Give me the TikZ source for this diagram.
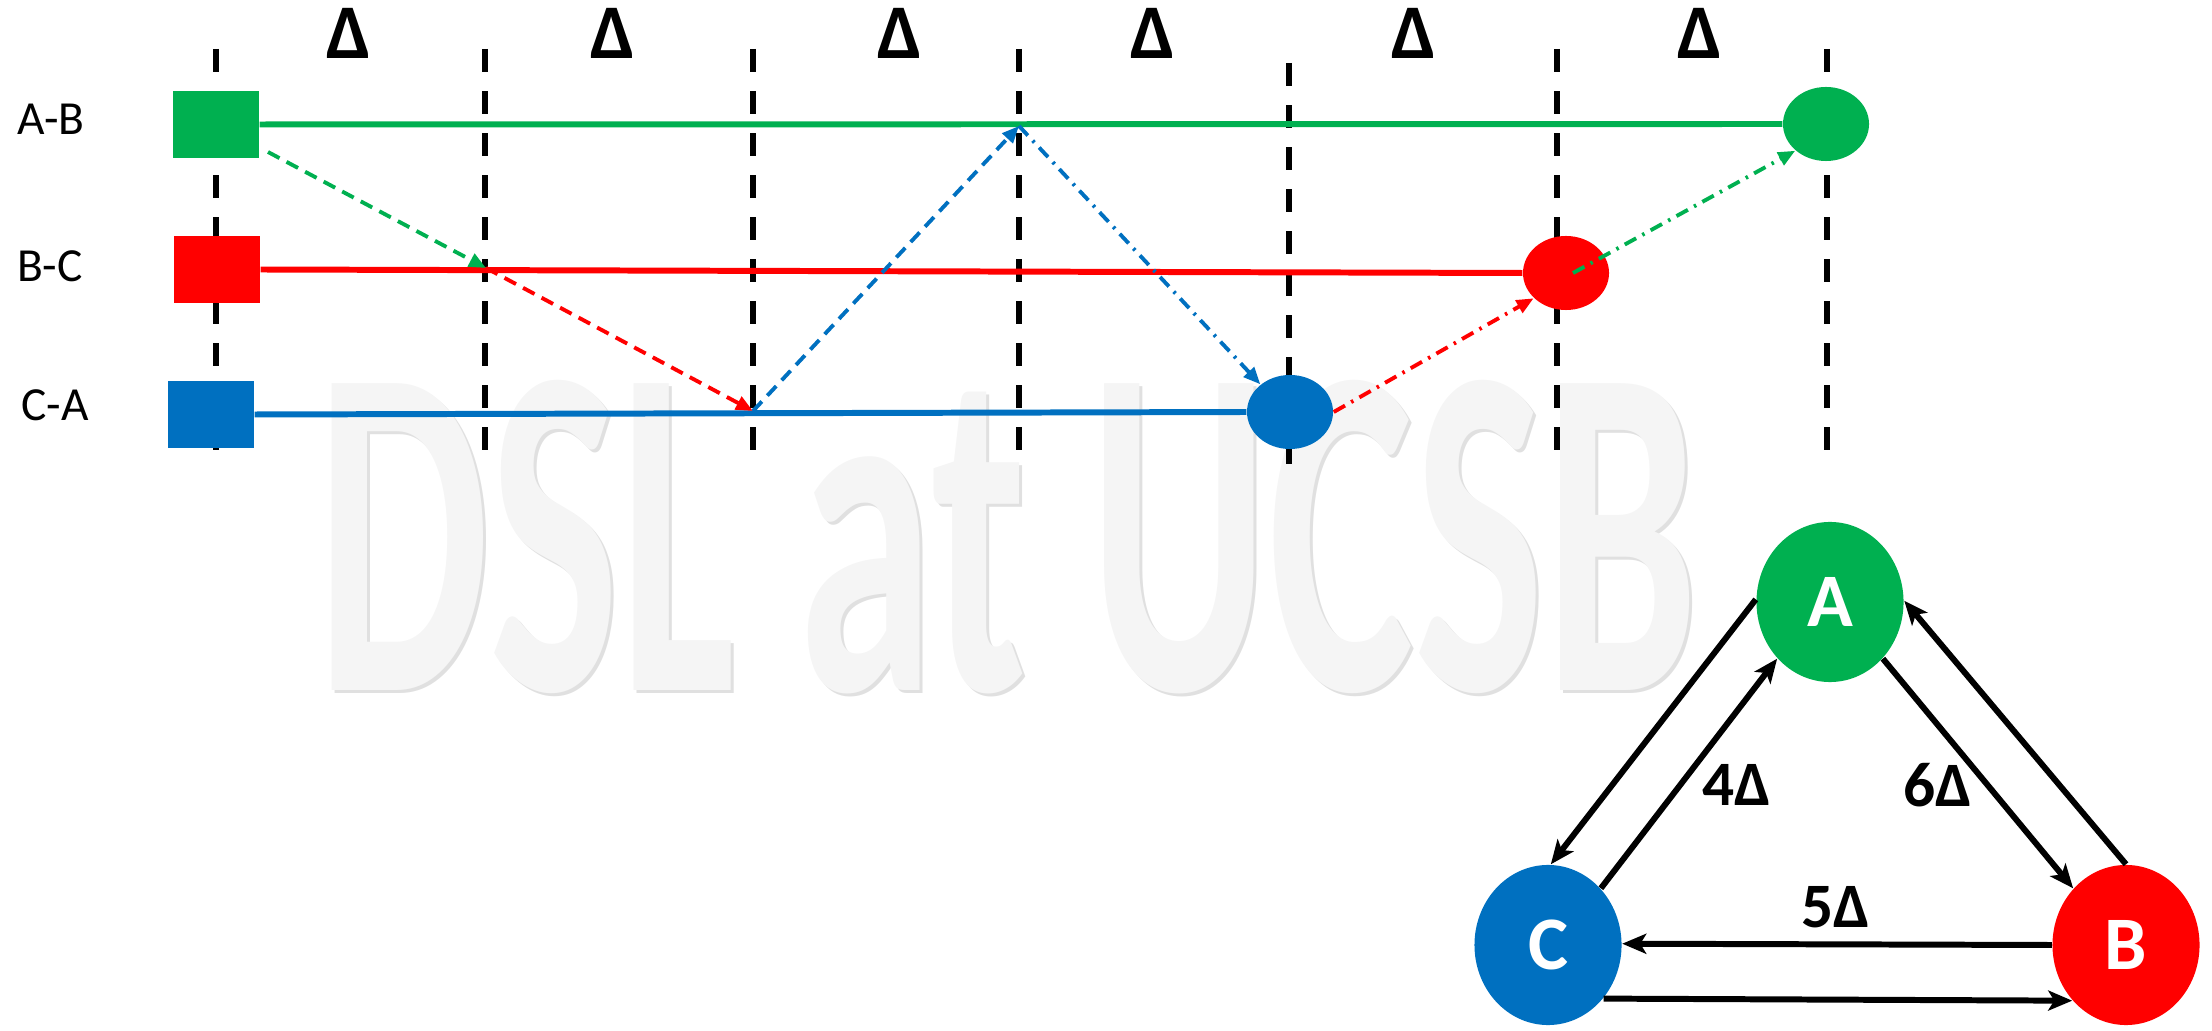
\documentclass[tikz,border=0pt]{standalone}
\usepackage{fontspec}
\setmainfont{Carlito}
\usetikzlibrary{arrows.meta,shapes.geometric}
\definecolor{cgreen}{HTML}{00B050}
\definecolor{cred}{HTML}{FF0000}
\definecolor{cblue}{HTML}{0070C0}
\begin{document}
\begin{tikzpicture}[x=0.01cm,y=-0.01cm,
  gridline/.style={line width=1.7pt, dash pattern=on 0.23cm off 0.19cm},
  sq/.style={rectangle, minimum width=0.86cm, minimum height=0.67cm, inner sep=0pt},
  ev/.style={ellipse, minimum width=0.86cm, minimum height=0.74cm, inner sep=0pt},
  track/.style={line width=1.7pt},
  msgd/.style={line width=1.1pt, dash pattern=on 0.13cm off 0.08cm, -{Triangle[length=0.17cm,width=0.14cm]}},
  msgdd/.style={line width=1.1pt, dash pattern=on 0.13cm off 0.07cm on 0.025cm off 0.07cm, -{Triangle[length=0.17cm,width=0.14cm]}},
  rowlab/.style={font=\fontsize{13.5pt}{15pt}\selectfont},
  dlab/.style={font=\fontsize{22pt}{26pt}\selectfont\bfseries},
  big/.style={ellipse, minimum width=1.47cm, minimum height=1.6cm, inner sep=0pt, text=white, font=\fontsize{21.5pt}{24pt}\selectfont\bfseries},
  link/.style={line width=1.7pt, -{Stealth[length=0.24cm,width=0.2cm,inset=0.06cm]}},
  wlab/.style={font=\fontsize{18pt}{20pt}\selectfont\bfseries},
  wm/.style={anchor=base west, inner sep=0pt}
]
\useasboundingbox (0,0) rectangle (2212,1031);
% watermark
\node[wm, text=black!12] (wm1) at (319,694) {\resizebox{13.8cm}{3.1cm}{\bfseries DSL at UCSB}};
\node[wm, text=black!4] (wm2) at (316,691) {\resizebox{13.8cm}{3.1cm}{\bfseries DSL at UCSB}};
% grid
\foreach \x in {216,485,753,1019,1557,1827} \draw[gridline] (\x,49) -- (\x,456);
\draw[gridline] (1289,63) -- (1289,470);
% delta labels
\foreach \x/\n in {349/1,613/2,900/3,1153/4,1414/5,1700/6}
  \node[dlab] (d\n) at (\x,33) {Δ};
% row labels
\node[rowlab] (lab) at (51,119) {A-B};
\node[rowlab] (lbc) at (50,266) {B-C};
\node[rowlab] (lca) at (55,405) {C-A};
% squares
\node[sq, fill=cgreen] (sAB) at (216,124.5) {};
\node[sq, fill=cred] (sBC) at (217,269.5) {};
\node[sq, fill=cblue] (sCA) at (211,414.5) {};
% end ellipses
\node[ev, fill=cgreen] (eAB) at (1826,124) {};
\node[ev, fill=cred] (eBC) at (1566,273) {};
\node[ev, fill=cblue] (eCA) at (1290,412) {};
% tracks
\draw[track, cgreen] (sAB.east) -- (eAB.west);
\draw[track, cred] (sBC.east) -- (eBC.west);
\draw[track, cblue] (sCA.east) -- (eCA.west);
% message coordinates
\coordinate (g1) at (268,152);
\coordinate (r1) at (486,268);
\coordinate (b1) at (753,411);
\coordinate (g2) at (1019,126);
\draw[msgd, cgreen] (g1) -- (r1);
\draw[msgd, cred] (r1) -- (b1);
\draw[msgd, cblue] (b1) -- (g2);
\draw[msgdd, cblue] (g2) -- (eCA.137);
\draw[msgdd, cred] (eCA.east) -- (eBC.218);
\draw[msgdd, cgreen] ([xshift=0.07cm]eBC.center) -- (eAB.221);
% triangle graph
\node[big, fill=cgreen] (A) at (1830,602) {A};
\node[big, fill=cred] (B) at (2126,945) {B};
\node[big, fill=cblue] (C) at (1548,945) {C};
\draw[link] (A.178) -- (C.88);
\draw[link] (C.47) -- (A.227);
\draw[link] (A.-47) -- (B.133);
\draw[link] (B.90) -- (A.1);
\draw[link] (B.180) -- (C.1);
\draw[link] (C.-44) -- (B.226);
\node[wlab] (w4) at (1737,785) {4Δ};
\node[wlab] (w6) at (1938,785) {6Δ};
\node[wlab] (w5) at (1836,907) {5Δ};
\end{tikzpicture}
\end{document}
